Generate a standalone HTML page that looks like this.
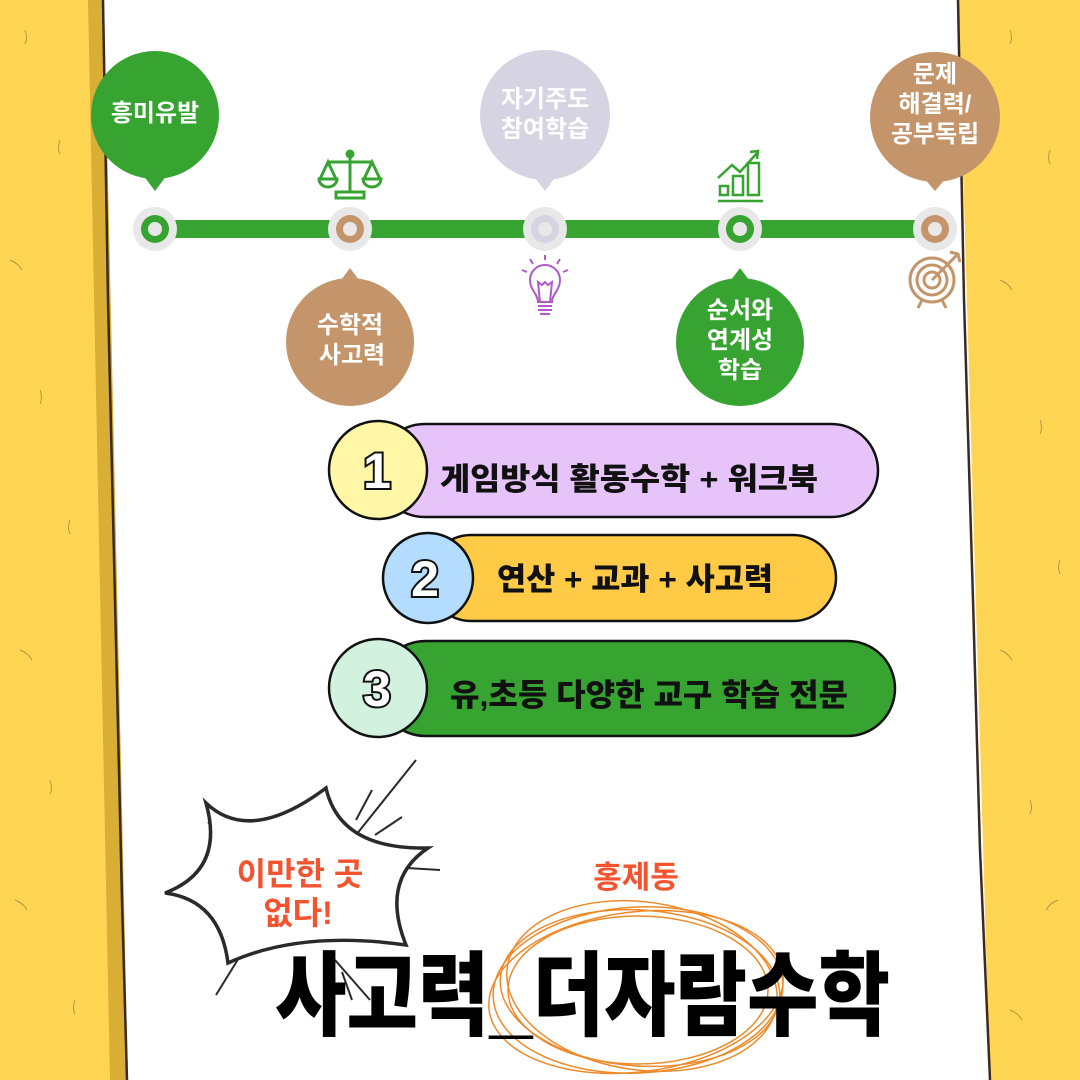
<!DOCTYPE html>
<html><head><meta charset="utf-8"><style>
html,body{margin:0;padding:0;background:#fff;}
svg{display:block;}
text{font-family:"Liberation Sans","Noto Sans CJK KR",sans-serif;}
</style></head><body>
<svg width="1080" height="1080" viewBox="0 0 1080 1080" xmlns="http://www.w3.org/2000/svg">
<rect width="1080" height="1080" fill="#fff"/>
<polygon points="0,0 104,0 128,1080 0,1080" fill="#d8ae35"/>
<polygon points="0,0 88,0 110,1080 0,1080" fill="#fdd553"/>
<polyline points="103,0 108,300 115,600 122,900 127,1080" fill="none" stroke="#3a2a22" stroke-width="2.5"/>
<polygon points="958,0 1080,0 1080,1080 990,1080" fill="#fdd553"/>
<polyline points="958,0 964,300 973,600 980,850 990,1080" fill="none" stroke="#3a2a22" stroke-width="2.5"/>
<g stroke="#8a6a30" stroke-width="1" fill="none" opacity="0.6">
<path d="M25,30 q3,8 0,14"/><path d="M60,140 q-3,8 0,14"/><path d="M10,260 q8,3 12,10"/><path d="M40,390 q3,8 0,14"/><path d="M70,520 q-3,8 0,14"/><path d="M20,650 q8,3 12,10"/><path d="M50,780 q3,8 0,14"/><path d="M15,900 q8,3 12,10"/><path d="M75,1000 q-3,8 0,14"/>
<path d="M1010,30 q3,8 0,14"/><path d="M1050,150 q-3,8 0,14"/><path d="M1000,280 q8,3 12,10"/><path d="M1040,420 q3,8 0,14"/><path d="M1060,560 q-3,8 0,14"/><path d="M1000,650 q8,3 12,10"/><path d="M1030,800 q3,8 0,14"/><path d="M1058,900 q-8,3 -12,10"/><path d="M1010,1010 q8,3 12,10"/>
</g>

<rect x="155" y="220" width="780" height="18" fill="#37a432"/>
<g>
<circle cx="155" cy="229" r="22" fill="#e8e8e8"/><circle cx="155" cy="229" r="14" fill="#37a432"/><circle cx="155" cy="229" r="7" fill="#e8e8e8"/>
<circle cx="350" cy="229" r="22" fill="#e8e8e8"/><circle cx="350" cy="229" r="14" fill="#c4956a"/><circle cx="350" cy="229" r="7" fill="#e8e8e8"/>
<circle cx="545" cy="229" r="22" fill="#e8e8e8"/><circle cx="545" cy="229" r="14" fill="#d6d4e3"/><circle cx="545" cy="229" r="7" fill="#e8e8e8"/>
<circle cx="740" cy="229" r="22" fill="#e8e8e8"/><circle cx="740" cy="229" r="14" fill="#37a432"/><circle cx="740" cy="229" r="7" fill="#e8e8e8"/>
<circle cx="935" cy="229" r="22" fill="#e8e8e8"/><circle cx="935" cy="229" r="14" fill="#c4956a"/><circle cx="935" cy="229" r="7" fill="#e8e8e8"/>
</g>

<circle cx="155" cy="115" r="64" fill="#37a432"/><polygon points="143,175 167,175 155,191" fill="#37a432"/>
<text x="155" y="121" font-size="24" font-weight="700" fill="#fff" text-anchor="middle">흥미유발</text>

<circle cx="545" cy="115" r="65" fill="#d6d4e3"/><polygon points="533,175 557,175 545,191" fill="#d6d4e3"/>
<text x="545" y="107" font-size="24" font-weight="700" fill="#fff" text-anchor="middle">자기주도</text>
<text x="545" y="137" font-size="24" font-weight="700" fill="#fff" text-anchor="middle">참여학습</text>

<circle cx="935" cy="117" r="65" fill="#c4956a"/><polygon points="923,177 947,177 935,191" fill="#c4956a"/>
<text x="935" y="82" font-size="24" font-weight="700" fill="#fff" text-anchor="middle">문제</text>
<text x="935" y="112" font-size="24" font-weight="700" fill="#fff" text-anchor="middle">해결력/</text>
<text x="935" y="142" font-size="24" font-weight="700" fill="#fff" text-anchor="middle">공부독립</text>

<circle cx="350" cy="342" r="64" fill="#c4956a"/><polygon points="338,284 362,284 350,268" fill="#c4956a"/>
<text x="350" y="333" font-size="24" font-weight="700" fill="#fff" text-anchor="middle">수학적</text>
<text x="352" y="363" font-size="24" font-weight="700" fill="#fff" text-anchor="middle">사고력</text>

<circle cx="740" cy="342" r="64" fill="#37a432"/><polygon points="728,284 752,284 740,268" fill="#37a432"/>
<text x="740" y="318" font-size="24" font-weight="700" fill="#fff" text-anchor="middle">순서와</text>
<text x="740" y="348" font-size="24" font-weight="700" fill="#fff" text-anchor="middle">연계성</text>
<text x="740" y="378" font-size="24" font-weight="700" fill="#fff" text-anchor="middle">학습</text>

<g stroke="#37a432" stroke-width="3" fill="none">
<line x1="350" y1="156" x2="350" y2="192"/><circle cx="350" cy="154" r="3" fill="#37a432"/>
<line x1="328" y1="162" x2="372" y2="162"/>
<path d="M320,179 L328,162 L336,179"/><path d="M364,179 L372,162 L380,179"/>
<path d="M319,179 h18 a9,8 0 0 1 -18,0z"/><path d="M363,179 h18 a9,8 0 0 1 -18,0z"/>
<rect x="336" y="192" width="28" height="6"/>
</g>
<g stroke="#37a432" stroke-width="2.5" fill="none">
<rect x="720" y="186" width="8" height="9"/><rect x="733" y="176" width="10" height="19"/><rect x="748" y="163" width="11" height="32"/>
<line x1="718" y1="201" x2="763" y2="201"/>
<polyline points="718,178 732,165 740,172 758,152"/><polyline points="750,152 758,151 757,159"/>
</g>
<g stroke="#b05ac7" stroke-width="2" fill="none">
<path d="M538,302 c0,-8 -8,-12 -8,-22 a15,15 0 0 1 30,0 c0,10 -8,14 -8,22z"/>
<path d="M540,302 l-2,-20 l4,3 l3,-3 l3,3 l4,-3 l-2,20"/>
<line x1="538" y1="306" x2="552" y2="306"/><line x1="538" y1="310" x2="552" y2="310"/><line x1="540" y1="314" x2="550" y2="314"/>
<line x1="545" y1="255" x2="545" y2="260"/><line x1="530" y1="259" x2="533" y2="264"/><line x1="560" y1="259" x2="557" y2="264"/><line x1="522" y1="270" x2="527" y2="272"/><line x1="568" y1="270" x2="563" y2="272"/>
</g>
<g stroke="#c4956a" stroke-width="3" fill="none">
<circle cx="932" cy="280" r="22"/><circle cx="932" cy="280" r="15"/><circle cx="932" cy="280" r="8"/>
<line x1="932" y1="280" x2="958" y2="254"/><polyline points="950,252 958,254 960,262"/>
<line x1="922" y1="300" x2="918" y2="308"/><line x1="942" y1="300" x2="946" y2="308"/>
</g>

<rect x="378" y="424" width="500" height="93" rx="46.5" fill="#e6c3f8" stroke="#111" stroke-width="2.5"/>
<circle cx="378" cy="470" r="49" fill="#fff6a6" stroke="#111" stroke-width="2.5"/>
<text x="377" y="488" font-size="50" font-weight="900" fill="#fff" stroke="#111" stroke-width="4" paint-order="stroke" text-anchor="middle">1</text>
<text x="440" y="490" font-size="31" font-weight="900" fill="#111" textLength="378" lengthAdjust="spacingAndGlyphs">게임방식  활동수학 + 워크북</text>

<rect x="428" y="535" width="408" height="86" rx="43" fill="#ffcb47" stroke="#111" stroke-width="2.5"/>
<circle cx="428" cy="578" r="45" fill="#b3dcfe" stroke="#111" stroke-width="2.5"/>
<text x="425" y="596" font-size="50" font-weight="900" fill="#fff" stroke="#111" stroke-width="4" paint-order="stroke" text-anchor="middle">2</text>
<text x="497" y="590" font-size="31" font-weight="900" fill="#111" textLength="276" lengthAdjust="spacingAndGlyphs">연산 + 교과 + 사고력</text>

<rect x="378" y="641" width="517" height="95" rx="47.5" fill="#37a432" stroke="#111" stroke-width="2.5"/>
<circle cx="378" cy="688" r="49" fill="#d2f1df" stroke="#111" stroke-width="2.5"/>
<text x="377" y="706" font-size="50" font-weight="900" fill="#fff" stroke="#111" stroke-width="4" paint-order="stroke" text-anchor="middle">3</text>
<text x="450" y="706" font-size="31" font-weight="900" fill="#111" textLength="398" lengthAdjust="spacingAndGlyphs">유,초등 다양한 교구 학습 전문</text>

<g stroke="#2a2a2a" stroke-width="2" fill="none">
<line x1="416" y1="760" x2="352" y2="840"/><line x1="372" y1="790" x2="356" y2="820"/><line x1="402" y1="817" x2="375" y2="835"/>
<line x1="407" y1="868" x2="440" y2="870"/><line x1="208" y1="822" x2="230" y2="845"/>
<line x1="245" y1="948" x2="216" y2="995"/><line x1="335" y1="960" x2="370" y2="1000"/><line x1="342" y1="972" x2="352" y2="1000"/>
</g>
<path d="M206,803 Q250,845 326,788 Q340,850 428,848 Q380,880 406,945 Q300,930 228,963 Q220,900 165,893 Q225,870 206,803 Z" fill="#fff" stroke="#2a2a2a" stroke-width="3.5" stroke-linejoin="miter"/>
<text x="300" y="885" font-size="32" font-weight="700" fill="#f4532f" text-anchor="middle">이만한 곳</text>
<text x="298" y="924" font-size="32" font-weight="700" fill="#f4532f" text-anchor="middle">없다!</text>

<text x="636" y="888" font-size="31" font-weight="700" fill="#f4532f" text-anchor="middle">홍제동</text>

<g fill="none" stroke="#ee8a2a" stroke-width="1.5">
<ellipse cx="638" cy="990" rx="145" ry="83" transform="rotate(-3 638 990)"/>
<ellipse cx="640" cy="988" rx="140" ry="78" transform="rotate(4 640 988)"/>
<ellipse cx="636" cy="992" rx="148" ry="80" transform="rotate(-7 636 992)"/>
<ellipse cx="642" cy="986" rx="136" ry="84" transform="rotate(8 642 986)"/>
<ellipse cx="638" cy="990" rx="130" ry="74"/>
</g>

<g transform="translate(0,1028) scale(1,1.15)">
<text x="275" y="0" font-size="80" font-weight="900" fill="#000" textLength="615" lengthAdjust="spacingAndGlyphs">사고력_더자람수학</text>
</g>
</svg>
</body></html>
